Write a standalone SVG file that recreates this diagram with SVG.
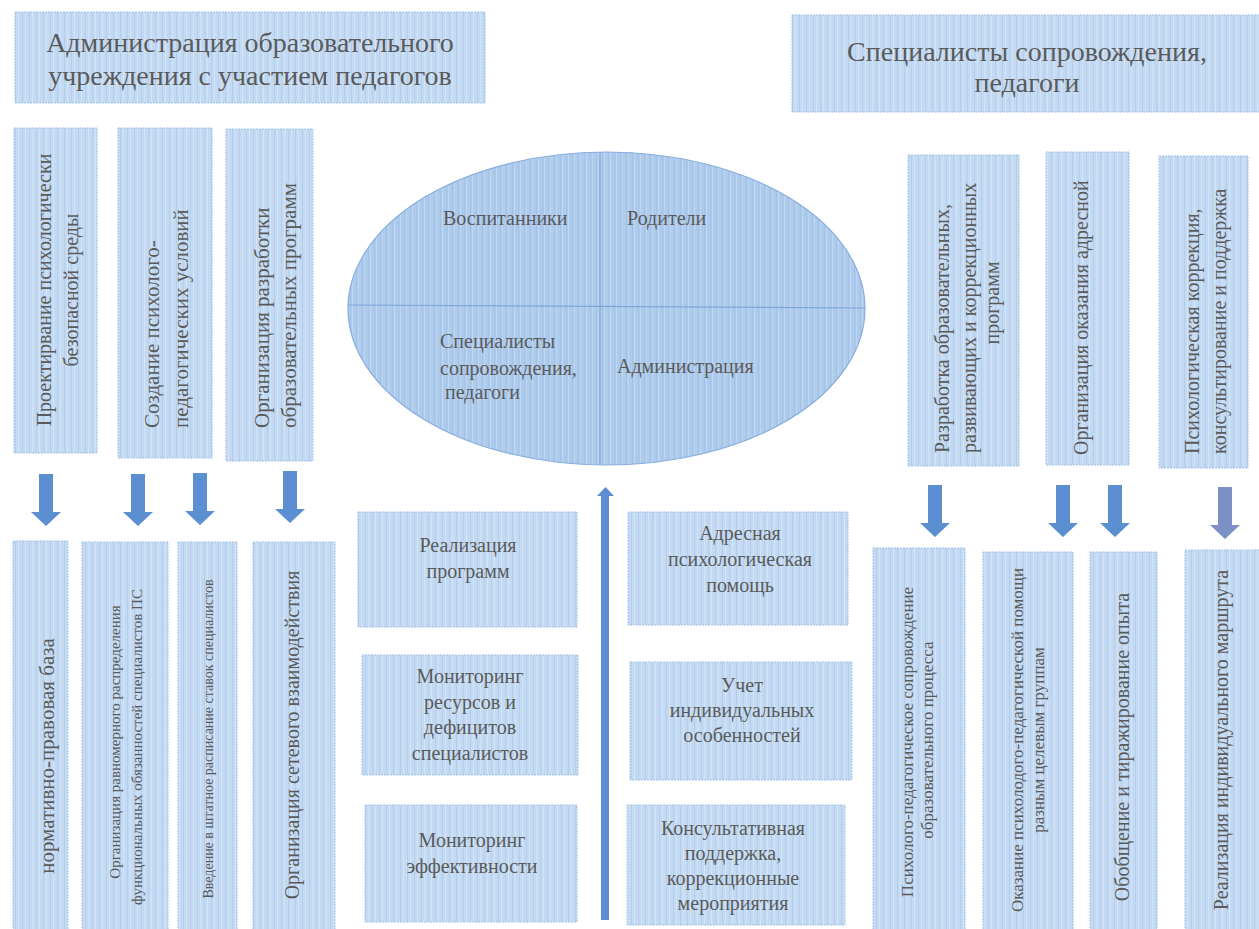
<svg xmlns="http://www.w3.org/2000/svg" width="1259" height="929" viewBox="0 0 1259 929">
<style>
.box{fill:url(#stripe);stroke:#a3c2e8;stroke-width:1;stroke-dasharray:2 1}
.t{font-family:'Liberation Serif','Times New Roman',serif;fill:#5a5a5a}
.c{text-anchor:middle}
.s{text-anchor:start}
.f28{font-size:28px}.f20{font-size:20px}.f21{font-size:21px}.f17{font-size:17px}.f15{font-size:15px}.f14{font-size:14px}
.arr{fill:#5b8fd1}
</style>
<defs>
<pattern id="stripe" width="7" height="10" patternUnits="userSpaceOnUse">
<rect width="7" height="10" fill="#c4daf2"/>
<rect x="1" width="1" height="10" fill="#b4cfee"/>
<rect x="4" width="1" height="10" fill="#d3e4f6"/>
</pattern>
<pattern id="stripe2" width="6" height="10" patternUnits="userSpaceOnUse">
<rect width="6" height="10" fill="#afcbec"/>
<rect x="2" width="1" height="10" fill="#a2c2e8"/>
<rect x="4" width="1" height="10" fill="#bfd6f1"/>
</pattern>
<path id="down" d="M-7,-52 H7 V-14 H15 L0,0 L-15,-14 H-7 Z"/>
<clipPath id="clipB"><rect x="1040" y="150" width="68" height="320"/></clipPath>
<clipPath id="clipD"><rect x="1180" y="545" width="67" height="390"/></clipPath>
</defs>
<rect width="1259" height="929" fill="#ffffff"/>

<g id="header-left">
<rect class="box" x="15" y="12" width="470" height="91"/>
<text class="t c f28" x="250" y="52">Администрация образовательного</text>
<text class="t c f28" x="250" y="85">учреждения с участием педагогов</text>
</g>
<g id="header-right">
<rect class="box" x="792" y="15" width="475" height="97"/>
<text class="t c f28" x="1027" y="61">Специалисты сопровождения,</text>
<text class="t c f28" x="1027" y="92">педагоги</text>
</g>

<g id="left-top-1">
<rect class="box" x="14" y="128" width="83" height="325"/>
<text class="t c f20" transform="translate(51,290) rotate(-90)">Проектирвание психологически</text>
<text class="t c f20" transform="translate(78,290) rotate(-90)">безопасной среды</text>
</g>
<g id="left-top-2">
<rect class="box" x="118" y="128" width="94" height="330"/>
<text class="t s f21" transform="translate(159,428) rotate(-90)">Создание  психолого-</text>
<text class="t s f21" transform="translate(188,428) rotate(-90)">педагогических условий</text>
</g>
<g id="left-top-3">
<rect class="box" x="226" y="129" width="87" height="332"/>
<text class="t s f21" transform="translate(269,428) rotate(-90)">Организация разработки</text>
<text class="t s f21" transform="translate(296,428) rotate(-90)">образовательных программ</text>
</g>

<g id="right-top-1">
<rect class="box" x="908" y="155" width="111" height="311"/>
<text class="t s f20" transform="translate(949,453) rotate(-90)">Разработка образовательных,</text>
<text class="t s f20" transform="translate(976,453) rotate(-90)">развивающих  и коррекционных</text>
<text class="t c f20" transform="translate(999,303) rotate(-90)">программ</text>
</g>
<g id="right-top-2">
<rect class="box" x="1046" y="152" width="83" height="313"/>
<text class="t s f20" transform="translate(1088,455) rotate(-90)">Организация оказания адресной</text>
<text class="t c f20" clip-path="url(#clipB)" transform="translate(1114,285) rotate(-90)">помощи</text>
</g>
<g id="right-top-3">
<rect class="box" x="1159" y="156" width="89" height="312"/>
<text class="t s f20" transform="translate(1199,454) rotate(-90)">Психологическая коррекция,</text>
<text class="t s f20" transform="translate(1226,454) rotate(-90)">консультирование и поддержка</text>
</g>

<g id="center-ellipse">
<ellipse cx="606.5" cy="308.5" rx="258.5" ry="156.5" fill="url(#stripe2)" stroke="#86addd" stroke-width="1.2"/>
<line x1="600" y1="152" x2="600" y2="465" stroke="#7ea6da" stroke-width="1.2"/>
<line x1="348" y1="305" x2="865" y2="308" stroke="#7ea6da" stroke-width="1.2"/>
<text class="t f20" x="443" y="225">Воспитанники</text>
<text class="t f20" x="627" y="225">Родители</text>
<text class="t f20" x="440" y="348">Специалисты</text>
<text class="t f20" x="440" y="375">сопровождения,</text>
<text class="t f20" x="445" y="399">педагоги</text>
<text class="t f20" x="617" y="373">Администрация</text>
</g>

<g id="mid-left-1">
<rect class="box" x="358" y="512" width="219" height="115"/>
<text class="t c f20" x="468" y="552">Реализация</text>
<text class="t c f20" x="468" y="578">программ</text>
</g>
<g id="mid-left-2">
<rect class="box" x="362" y="655" width="216" height="120"/>
<text class="t c f20" x="470" y="683">Мониторинг</text>
<text class="t c f20" x="470" y="709">ресурсов и</text>
<text class="t c f20" x="470" y="734">дефицитов</text>
<text class="t c f20" x="470" y="760">специалистов</text>
</g>
<g id="mid-left-3">
<rect class="box" x="365" y="805" width="212" height="117"/>
<text class="t c f20" x="472" y="847">Мониторинг</text>
<text class="t c f20" x="472" y="873">эффективности</text>
</g>
<g id="mid-right-1">
<rect class="box" x="628" y="512" width="220" height="113"/>
<text class="t c f20" x="740" y="540">Адресная</text>
<text class="t c f20" x="740" y="566">психологическая</text>
<text class="t c f20" x="740" y="592">помощь</text>
</g>
<g id="mid-right-2">
<rect class="box" x="630" y="662" width="222" height="118"/>
<text class="t c f20" x="742" y="692">Учет</text>
<text class="t c f20" x="742" y="717">индивидуальных</text>
<text class="t c f20" x="742" y="742">особенностей</text>
</g>
<g id="mid-right-3">
<rect class="box" x="627" y="805" width="218" height="120"/>
<text class="t c f20" x="733" y="835">Консультативная</text>
<text class="t c f20" x="733" y="860">поддержка,</text>
<text class="t c f20" x="733" y="885">коррекционные</text>
<text class="t c f20" x="733" y="910">мероприятия</text>
</g>

<g id="left-bottom-1">
<rect class="box" x="13" y="541" width="55" height="395"/>
<text class="t c f21" transform="translate(54,756) rotate(-90)">нормативно-правовая база</text>
</g>
<g id="left-bottom-2">
<rect class="box" x="82" y="542" width="86" height="395"/>
<text class="t c f15" transform="translate(120,742) rotate(-90)">Организация равномерного распределения</text>
<text class="t c f15" transform="translate(142,747) rotate(-90)">функциональных обязанностей специалистов ПС</text>
</g>
<g id="left-bottom-3">
<rect class="box" x="178" y="542" width="59" height="395"/>
<text class="t c f14" transform="translate(213,739) rotate(-90)">Введение в штатное расписание ставок специалистов</text>
</g>
<g id="left-bottom-4">
<rect class="box" x="253" y="542" width="82" height="395"/>
<text class="t c f20" transform="translate(299,735) rotate(-90)">Организация сетевого взаимодействия</text>
</g>

<g id="right-bottom-1">
<rect class="box" x="873" y="548" width="92" height="390"/>
<text class="t c f17" transform="translate(913,742) rotate(-90)">Психолого-педагогическое сопровождение</text>
<text class="t c f17" transform="translate(933,740) rotate(-90)">образовательного процесса</text>
</g>
<g id="right-bottom-2">
<rect class="box" x="983" y="552" width="90" height="385"/>
<text class="t c f17" transform="translate(1023,740) rotate(-90)">Оказание психолодого-педагогической помощи</text>
<text class="t c f17" transform="translate(1044,740) rotate(-90)">разным целевым группам</text>
</g>
<g id="right-bottom-3">
<rect class="box" x="1090" y="552" width="67" height="385"/>
<text class="t c f20" transform="translate(1129,747) rotate(-90)">Обобщение и тиражирование опыта</text>
</g>
<g id="right-bottom-4">
<rect class="box" x="1185" y="550" width="80" height="388"/>
<text class="t c f20" transform="translate(1228,740) rotate(-90)">Реализация индивидуального маршрута</text>
<text class="t c f20" clip-path="url(#clipD)" transform="translate(1253,725) rotate(-90)">развития</text>
</g>

<g id="connectors">
<use href="#down" class="arr" x="46" y="526"/>
<use href="#down" class="arr" x="138" y="526"/>
<use href="#down" class="arr" x="200" y="525"/>
<use href="#down" class="arr" x="290" y="523"/>
<use href="#down" class="arr" x="935" y="537"/>
<use href="#down" class="arr" x="1063" y="537"/>
<use href="#down" class="arr" x="1115" y="537"/>
<use href="#down" x="1225" y="539" fill="#7b90c4"/>
<path class="arr" d="M601,920 V496 H597 L605.5,487 L614,496 H609 V920 Z"/>
</g>
</svg>
